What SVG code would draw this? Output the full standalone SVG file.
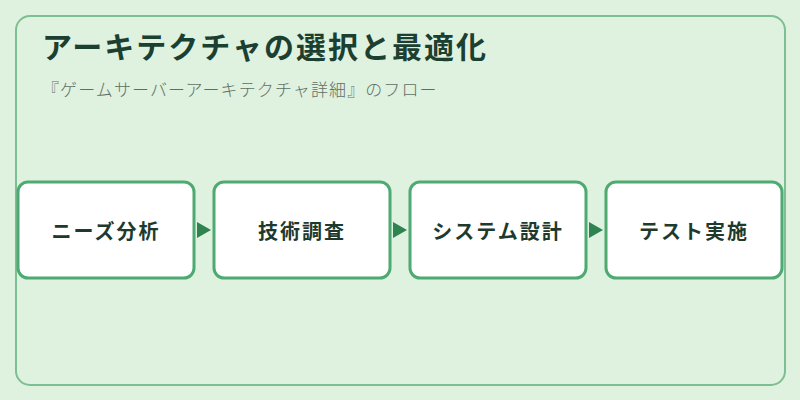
<svg xmlns="http://www.w3.org/2000/svg" width="800" height="400" viewBox="0 0 800 400">
<defs>
<style>
.bg{fill:#dff1df}
.frame{fill:none;stroke:#7dbe92;stroke-width:2}
.node rect{fill:#ffffff;stroke:#4eaa70;stroke-width:3}
.node text{font-family:"Noto Sans CJK JP","Noto Sans",sans-serif;font-size:20px;font-weight:700;fill:#1e3a2d;text-anchor:middle;dominant-baseline:central;letter-spacing:2px}
.title{font-family:"Noto Sans CJK JP","Noto Sans",sans-serif;font-size:30px;font-weight:700;fill:#1b3f30;letter-spacing:2px}
.sub{font-family:"Noto Sans CJK JP","Noto Sans",sans-serif;font-size:17px;font-weight:300;fill:#5f6f66;letter-spacing:1.1px}
.arrow{fill:#2e8350}
</style>
</defs>
<rect class="bg" x="0" y="0" width="800" height="400"/>
<rect class="frame" x="16" y="16" width="769" height="369" rx="14"/>
<text class="title" x="42" y="58">アーキテクチャの選択と最適化</text>
<text class="sub" x="42" y="96">『ゲームサーバーアーキテクチャ詳細』のフロー</text>
<g id="connectors">
<polygon class="arrow" points="197,222 211,230 197,238"/>
<polygon class="arrow" points="393,222 407,230 393,238"/>
<polygon class="arrow" points="589,222 603,230 589,238"/>
</g>
<g id="node1" class="node"><rect x="18" y="182" width="176" height="96" rx="10"/><text x="106" y="230">ニーズ分析</text></g>
<g id="node2" class="node"><rect x="214" y="182" width="176" height="96" rx="10"/><text x="302" y="230">技術調査</text></g>
<g id="node3" class="node"><rect x="410" y="182" width="176" height="96" rx="10"/><text x="498" y="230">システム設計</text></g>
<g id="node4" class="node"><rect x="606" y="182" width="176" height="96" rx="10"/><text x="694" y="230">テスト実施</text></g>
</svg>
